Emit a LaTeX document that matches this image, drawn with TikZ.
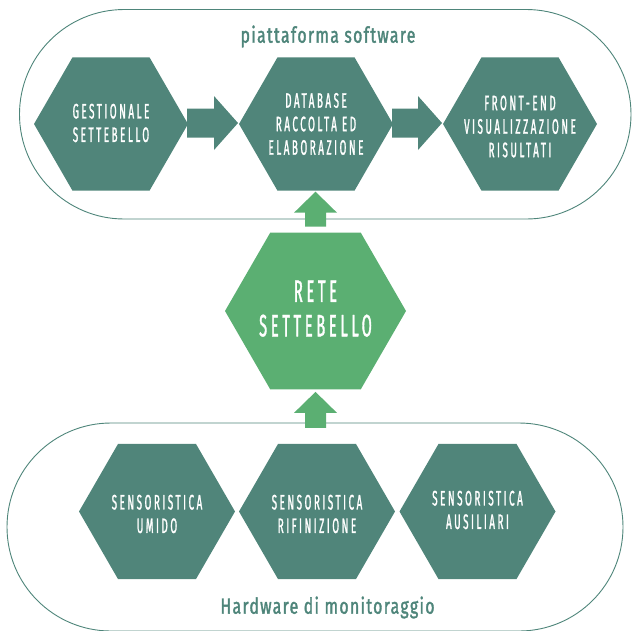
\documentclass[tikz,border=0pt]{standalone}
\usepackage{fontspec}
\usetikzlibrary{shapes.geometric,calc}
\newfontfamily\hexfont[FakeStretch=0.47,LetterSpace=12,FakeBold=1.2]{Fira Sans}
\newfontfamily\titlefont[FakeStretch=0.72,LetterSpace=6,FakeBold=1.6]{Fira Sans}
\definecolor{hexdark}{RGB}{80,133,122}
\definecolor{hexgreen}{RGB}{91,175,114}
\definecolor{frameteal}{RGB}{78,133,122}
\tikzset{
  hexa/.style={regular polygon, regular polygon sides=6, inner sep=0pt, outer sep=0pt, minimum size=#1, fill=hexdark},
  stadium/.style={draw=frameteal, line width=0.9pt, rounded corners=#1},
  lbl/.style={align=center, inner sep=0pt, text=white, font=\hexfont\fontsize{21}{23.5}\selectfont},
  biglbl/.style={align=center, inner sep=0pt, text=white, font=\hexfont\fontsize{31}{34.5}\selectfont},
  grouptitle/.style={anchor=base, inner sep=0pt, text=frameteal, font=\titlefont\fontsize{22}{26}\selectfont},
}
% horizontal block arrow from node #1 to node #2
\newcommand\harrow[2]{%
  \coordinate (#1-tail) at ($(#1.east)+(-1,-1)$);
  \coordinate (#1-tip) at ($(#2.west)+(-1,-1)$);
  \fill[hexdark] ($(#1-tail)+(0,-14.5)$) -- ($(#1-tip)+(-24,-14.5)$) -- ($(#1-tip)+(-24,-27)$)
    -- (#1-tip) -- ($(#1-tip)+(-24,27)$) -- ($(#1-tip)+(-24,14.5)$) -- ($(#1-tail)+(0,14.5)$) -- cycle;}
% vertical block arrow: tail coordinate #1, tip coordinate #2 (same x)
\newcommand\varrow[2]{%
  \fill[hexgreen] ($(#1)+(-10.5,0)$) -- ($(#2)+(-10.5,21)$) -- ($(#2)+(-21.5,21)$)
  -- (#2) -- ($(#2)+(21.5,21)$) -- ($(#2)+(10.5,21)$) -- ($(#1)+(10.5,0)$) -- cycle;}
\begin{document}
\begin{tikzpicture}[x=1pt,y=-1pt]
\useasboundingbox (0,0) rectangle (632,630);
% group frames
\draw[stadium=104.75] (19.5,9.5) rectangle (631,219);
\draw[stadium=104] (7,423) rectangle (623,631);
% hexagons
\node[hexa=154pt] (gest) at (111,124) {};
\node[hexa=154pt] (db) at (316,124) {};
\node[hexa=154pt] (fe) at (520,124) {};
\node[hexa=181pt, fill=hexgreen] (rete) at (315.5,311) {};
\node[hexa=156pt] (s1) at (157,511.5) {};
\node[hexa=156pt] (s2) at (317,511.5) {};
\node[hexa=156pt] (s3) at (477.5,511.5) {};
% block arrows
\harrow{gest}{db}
\harrow{db}{fe}
\coordinate (up1-tail) at ($(rete.north)+(0,-6)$);
\coordinate (up1-tip) at ($(rete.north |- db.south)+(0,1)$);
\varrow{up1-tail}{up1-tip}
\coordinate (up2-tip) at ($(rete.south)+(0,2.5)$);
\coordinate (up2-tail) at ($(up2-tip |- s2.north)+(0,-16)$);
\varrow{up2-tail}{up2-tip}
% labels
\node[lbl] (gest-t) at ($(gest)+(0,-1)$) {GESTIONALE\\SETTEBELLO};
\node[lbl] (db-t) at (db) {DATABASE\\RACCOLTA ED\\ELABORAZIONE};
\node[lbl] (fe-t) at ($(fe)+(0,2.5)$) {FRONT-END\\VISUALIZZAZIONE\\RISULTATI};
\node[biglbl] (rete-t) at ($(rete)+(0,-2.4)$) {RETE\\SETTEBELLO};
\node[lbl] (s1-t) at ($(s1)+(0,2.5)$) {SENSORISTICA\\UMIDO};
\node[lbl] (s2-t) at ($(s2)+(0,2.5)$) {SENSORISTICA\\RIFINIZIONE};
\node[lbl] (s3-t) at ($(s3)+(0,-1.5)$) {SENSORISTICA\\AUSILIARI};
% group titles
\node[grouptitle] (swtitle) at (328,42.7) {piattaforma software};
\node[grouptitle] (hwtitle) at (327.5,613.7) {Hardware di monitoraggio};
\end{tikzpicture}
\end{document}
